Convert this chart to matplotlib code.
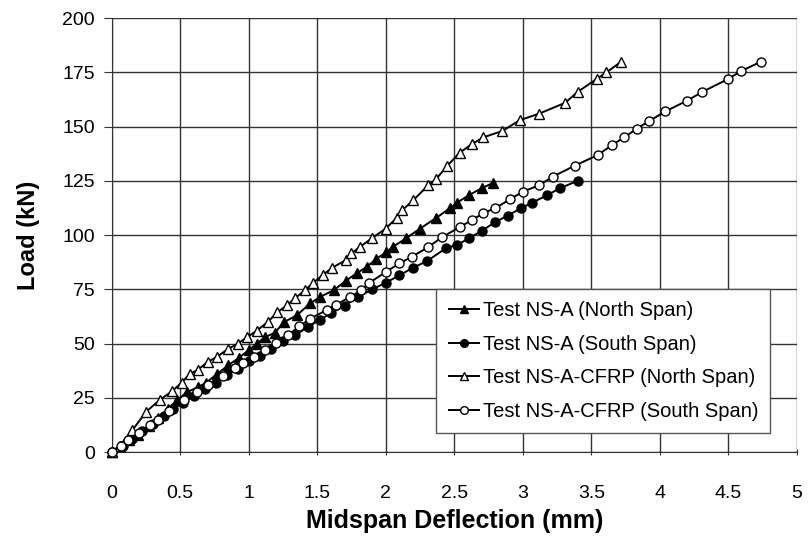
import matplotlib
matplotlib.use("Agg")
import matplotlib.pyplot as plt

plt.rcParams['font.family'] = ['Liberation Sans', 'DejaVu Sans']

# Test NS-A (North Span)
nsa_north_x = [0, 0.06, 0.13, 0.19, 0.27, 0.34, 0.41, 0.48, 0.55, 0.63, 0.69, 0.77, 0.85,
               0.93, 1.0, 1.06, 1.12, 1.19, 1.26, 1.35, 1.45, 1.52, 1.62, 1.71, 1.79, 1.86,
               1.93, 2.0, 2.05, 2.15, 2.25, 2.37, 2.47, 2.52, 2.61, 2.70, 2.78]
nsa_north_y = [0, 3, 5.5, 8, 12, 15.7, 20, 24, 27.6, 30, 32, 36, 40,
               43.5, 47, 50, 53, 55, 60, 63, 68.6, 71.5, 74.6, 79, 82.5, 85.3,
               89, 92, 94.5, 98.6, 103, 108, 112.5, 115, 118.5, 121.6, 124]

# Test NS-A (South Span)
nsa_south_x = [0, 0.08, 0.15, 0.22, 0.3, 0.38, 0.45, 0.52, 0.6, 0.68, 0.76, 0.84, 0.92,
               1.0, 1.08, 1.16, 1.25, 1.34, 1.43, 1.52, 1.6, 1.7, 1.8, 1.9, 2.0, 2.1,
               2.2, 2.3, 2.44, 2.52, 2.61, 2.7, 2.8, 2.89, 2.99, 3.07, 3.18, 3.27, 3.40]
nsa_south_y = [0, 3, 6, 9.5, 13, 16.5, 20, 22.5, 26, 29, 32, 35.5, 38.5,
               42, 44.5, 47.5, 51, 54, 57.5, 61, 64, 67.5, 71.5, 75, 78, 81.5,
               85, 88, 94, 95.5, 98.6, 102, 106, 109, 112.5, 115, 118.5, 121.6, 125]

# Test NS-A-CFRP (North Span)
cfrp_north_x = [0, 0.06, 0.15, 0.25, 0.35, 0.44, 0.51, 0.57, 0.63, 0.70, 0.77, 0.85, 0.92,
                0.99, 1.06, 1.14, 1.21, 1.28, 1.34, 1.41, 1.47, 1.54, 1.61, 1.71, 1.75,
                1.81, 1.90, 2.0, 2.08, 2.12, 2.20, 2.31, 2.37, 2.45, 2.54, 2.63, 2.71,
                2.85, 2.98, 3.12, 3.31, 3.40, 3.54, 3.61, 3.72]
cfrp_north_y = [0, 3, 10, 18.5, 24, 28, 32, 36, 38, 41.5, 44, 47.5, 50,
                53, 56, 60, 64.5, 67.7, 71, 74.6, 78, 81.6, 85, 88.5, 91.6,
                94.5, 98.6, 103, 108, 111.5, 116, 123, 126, 132, 138, 142, 145,
                148, 153, 156, 161, 166, 172, 175, 180]

# Test NS-A-CFRP (South Span)
cfrp_south_x = [0, 0.07, 0.12, 0.2, 0.28, 0.34, 0.42, 0.53, 0.62, 0.70, 0.81, 0.90, 0.96,
                1.04, 1.12, 1.2, 1.29, 1.37, 1.45, 1.57, 1.64, 1.74, 1.82, 1.88, 2.0,
                2.1, 2.19, 2.31, 2.41, 2.54, 2.63, 2.71, 2.80, 2.91, 3.0, 3.12, 3.22,
                3.38, 3.55, 3.65, 3.74, 3.83, 3.92, 4.04, 4.20, 4.31, 4.50, 4.59, 4.74]
cfrp_south_y = [0, 3, 5.5, 9, 12.5, 15, 19, 24, 27.5, 31, 35, 38.7, 41,
                44, 47, 50.5, 54, 58, 61.5, 65.5, 68, 71.5, 74.6, 78, 83,
                87, 90, 94.5, 99, 103.7, 107, 110, 112.5, 116.6, 120, 123, 127,
                132, 137, 141.5, 145, 149, 152.5, 157, 162, 166, 172, 175.5, 180]

x_ticks = [0, 0.5, 1, 1.5, 2, 2.5, 3, 3.5, 4, 4.5, 5]
x_labels = ["0", "0.5", "1", "1.5", "2", "2.5", "3", "3.5", "4", "4.5", "5"]
y_ticks = [0, 25, 50, 75, 100, 125, 150, 175, 200]

fig = plt.figure(figsize=(8.09, 5.5), dpi=100)
ax = fig.add_axes([0.138, 0.178, 0.847, 0.789])

ms = 7
ax.plot(nsa_north_x, nsa_north_y, '-', color='black', lw=1.4, marker='^', ms=ms,
        mfc='black', mec='black', label='Test NS-A (North Span)', zorder=4, clip_on=False)
ax.plot(nsa_south_x, nsa_south_y, '-', color='black', lw=1.4, marker='o', ms=6.5,
        mfc='black', mec='black', label='Test NS-A (South Span)', zorder=4, clip_on=False)
ax.plot(cfrp_north_x, cfrp_north_y, '-', color='black', lw=1.4, marker='^', ms=ms,
        mfc='white', mec='black', mew=1, label='Test NS-A-CFRP (North Span)', zorder=5,
        clip_on=False)
ax.plot(cfrp_south_x, cfrp_south_y, '-', color='black', lw=1.4, marker='o', ms=6.5,
        mfc='white', mec='black', mew=1, label='Test NS-A-CFRP (South Span)', zorder=5,
        clip_on=False)

ax.set_xlim(0, 5)
ax.set_ylim(0, 200)
ax.set_xticks(x_ticks)
ax.set_xticklabels(x_labels)
ax.set_yticks(y_ticks)
ax.grid(True, color='#333333', lw=1.0)
ax.set_axisbelow(True)

for s in ['top', 'right']:
    ax.spines[s].set_visible(False)
ax.spines['left'].set_color('#333333')
ax.spines['bottom'].set_color('#333333')

ax.tick_params(axis='y', direction='out', length=6, labelsize=14, pad=6, color='#333333')
ax.tick_params(axis='x', direction='inout', length=4, labelsize=14, pad=22, color='#333333')

ax.set_xlabel('Midspan Deflection (mm)', fontsize=18, fontweight='bold', labelpad=5)
ax.set_ylabel('Load (kN)', fontsize=17, fontweight='bold', labelpad=16)

leg = ax.legend(loc='lower left', bbox_to_anchor=(0.474, 0.044), fontsize=14.5,
                frameon=True, fancybox=False, framealpha=1, edgecolor='#555555',
                handlelength=1.5, handletextpad=0.2, borderpad=0.6, labelspacing=0.72,
                borderaxespad=0, markerscale=0.85)
leg.get_frame().set_linewidth(1.0)

fig.savefig('out.png', dpi=100)
